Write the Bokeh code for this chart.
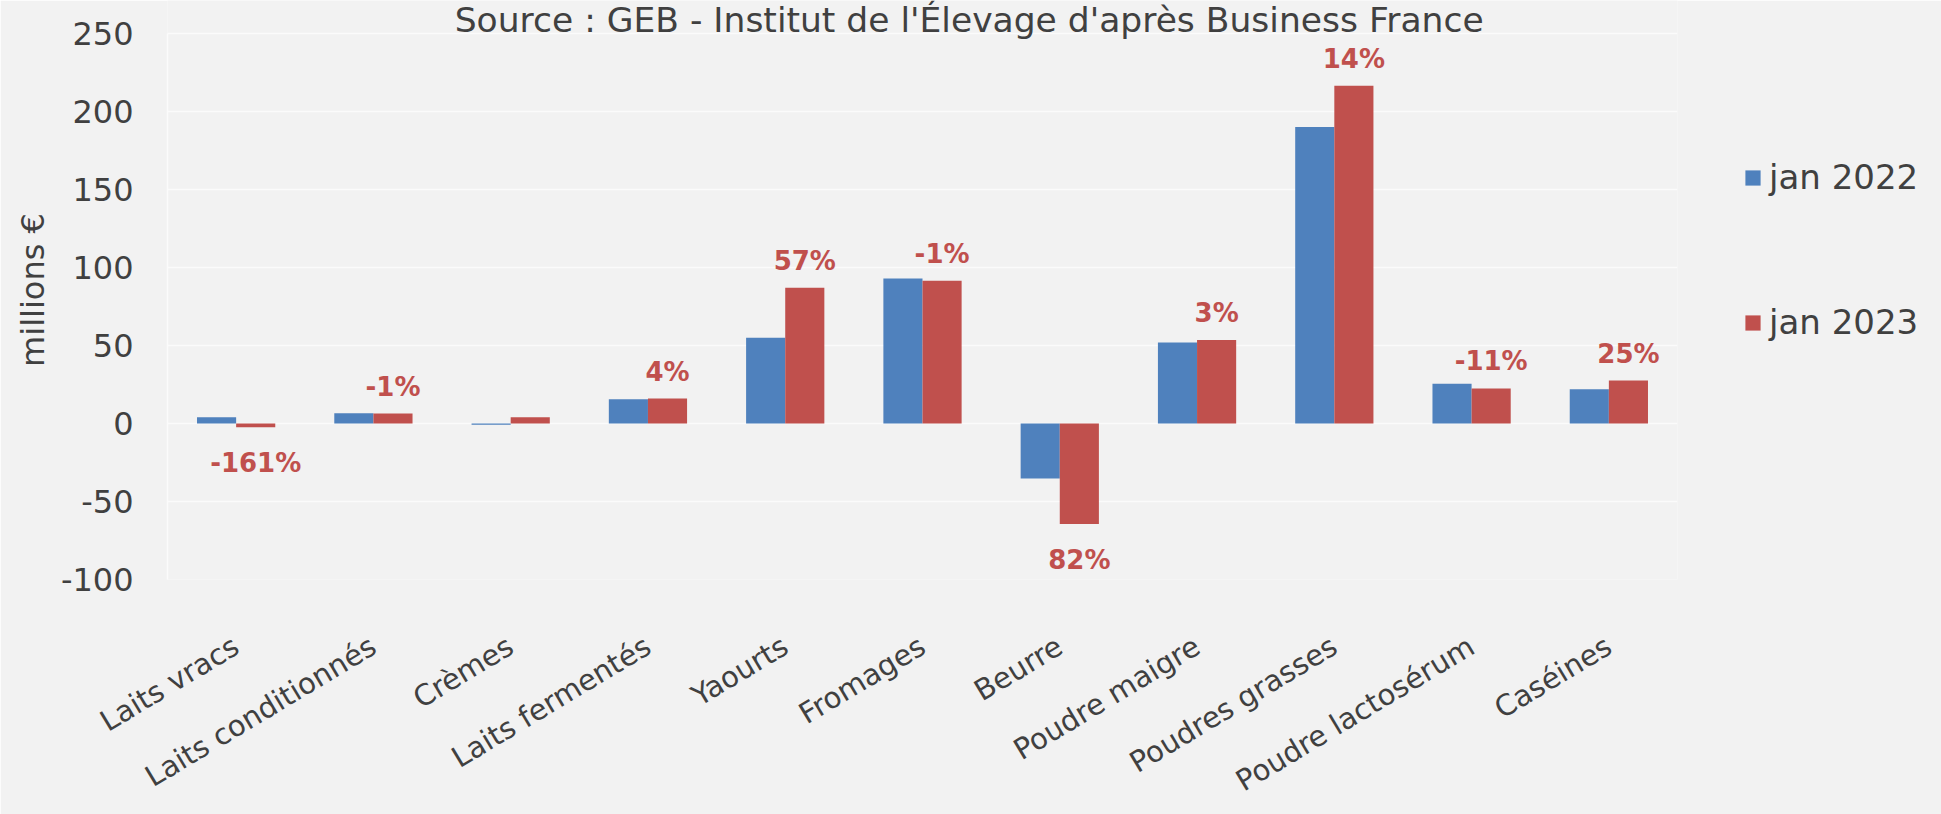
import math
from bokeh.plotting import figure
from bokeh.models import (ColumnDataSource, FactorRange, Legend, LegendItem, Label, FixedTicker, Range1d)
from bokeh.transform import dodge
from bokeh.core.properties import value
from bokeh.embed import file_html
from bokeh.resources import INLINE

# ---------------- data ----------------
categories = ["Laits vracs", "Laits conditionnés", "Crèmes", "Laits fermentés", "Yaourts",
              "Fromages", "Beurre", "Poudre maigre", "Poudres grasses", "Poudre lactosérum", "Caséines"]
jan_2022 = [4.0, 6.5, -0.8, 15.5, 55.0, 93.0, -35.3, 52.0, 190.0, 25.5, 22.0]
jan_2023 = [-2.4, 6.4, 4.0, 16.0, 87.0, 91.5, -64.5, 53.5, 216.5, 22.5, 27.5]
change_labels = ["-161%", "-1%", "", "4%", "57%", "-1%", "82%", "3%", "14%", "-11%", "25%"]
series_names = ["jan 2022", "jan 2023"]
y_ticks = [-100, -50, 0, 50, 100, 150, 200, 250]
y_title = "millions €"
source_text = "Source : GEB - Institut de l'Élevage d'après Business France"

# ---------------- style ----------------
BLUE = "#4F81BD"
RED = "#C0504D"
BG = "#F2F2F2"
TXT = "#404040"
GRID = "#FBFBFB"
FONT = "DejaVu Sans"

Y_MIN, Y_MAX = y_ticks[0], y_ticks[-1]
PLOT_H = 546                     # pixel height of the -100..250 band
TOP_PAD = 33                     # pixels above the 250 line (room for the source text)
y_top = Y_MAX + TOP_PAD * (Y_MAX - Y_MIN) / PLOT_H

p = figure(x_range=FactorRange(*categories), y_range=Range1d(Y_MIN, y_top),
           frame_width=1510, frame_height=PLOT_H + TOP_PAD,
           min_border_left=167, min_border_right=264, min_border_top=0, min_border_bottom=235,
           output_backend="svg", toolbar_location=None,
           background_fill_color=BG, border_fill_color=BG, outline_line_color=None)

label_off = [(-27 if v >= 0 else 36) for v in jan_2023]
src = ColumnDataSource(dict(cat=categories, v22=jan_2022, v23=jan_2023,
                            lab=change_labels, off=label_off))

r1 = p.vbar(x=dodge("cat", -0.1425, range=p.x_range), top="v22", width=0.285,
            source=src, fill_color=BLUE, line_color=None)
r2 = p.vbar(x=dodge("cat", 0.1425, range=p.x_range), top="v23", width=0.285,
            source=src, fill_color=RED, line_color=None)

p.text(x=dodge("cat", 0.1425, range=p.x_range), y="v23", text="lab", y_offset="off",
       source=src, text_align="center", text_baseline="middle",
       text_font=value(FONT), text_font_style="bold", text_font_size="26px", text_color=RED)

# axes
p.xgrid.grid_line_color = None
p.ygrid.grid_line_color = GRID
p.ygrid.grid_line_width = 1.5

p.yaxis.ticker = FixedTicker(ticks=y_ticks)
p.yaxis.major_label_overrides = {t: str(t) for t in y_ticks}
p.yaxis.bounds = (Y_MIN, Y_MAX)
p.yaxis.axis_line_color = GRID
p.yaxis.axis_line_width = 1.5
p.yaxis.major_tick_line_color = None
p.yaxis.minor_tick_line_color = None
p.yaxis.major_tick_in = 0
p.yaxis.major_tick_out = 0
p.yaxis.major_label_standoff = 34
p.yaxis.major_label_text_font = FONT
p.yaxis.major_label_text_font_size = "32px"
p.yaxis.major_label_text_color = TXT
p.yaxis.axis_label = y_title
p.yaxis.axis_label_text_font = FONT
p.yaxis.axis_label_text_font_size = "32px"
p.yaxis.axis_label_text_font_style = "normal"
p.yaxis.axis_label_text_color = TXT
p.yaxis.axis_label_standoff = 6

p.xaxis.axis_line_color = None
p.xaxis.major_tick_line_color = None
p.xaxis.minor_tick_line_color = None
p.xaxis.major_tick_in = 0
p.xaxis.major_tick_out = 0
p.xaxis.major_label_orientation = math.radians(31)
p.xaxis.major_label_standoff = 64
p.xaxis.major_label_text_font = FONT
p.xaxis.major_label_text_font_size = "29px"
p.xaxis.major_label_text_color = TXT

# source title (inside the frame's top band)
p.add_layout(Label(x=5.84, y=258.5, text=source_text, text_align="center",
                   text_baseline="middle", text_font=FONT, text_font_size="34.5px",
                   text_color=TXT))

# legend on the right side panel
legend = Legend(items=[LegendItem(label=series_names[0], renderers=[r1]),
                       LegendItem(label=series_names[1], renderers=[r2])],
                location=(66, 237), orientation="vertical",
                glyph_width=19, glyph_height=19, label_height=40, label_standoff=7,
                spacing=105, padding=0, margin=0, border_line_color=None,
                background_fill_alpha=0, label_text_font=FONT, label_text_font_size="34px",
                label_text_color=TXT)
p.add_layout(legend, "right")

html = file_html(p, INLINE)
html = html.replace("<body>", '<body style="background-color:#F2F2F2;">', 1)
open("out.html", "w").write(html)
